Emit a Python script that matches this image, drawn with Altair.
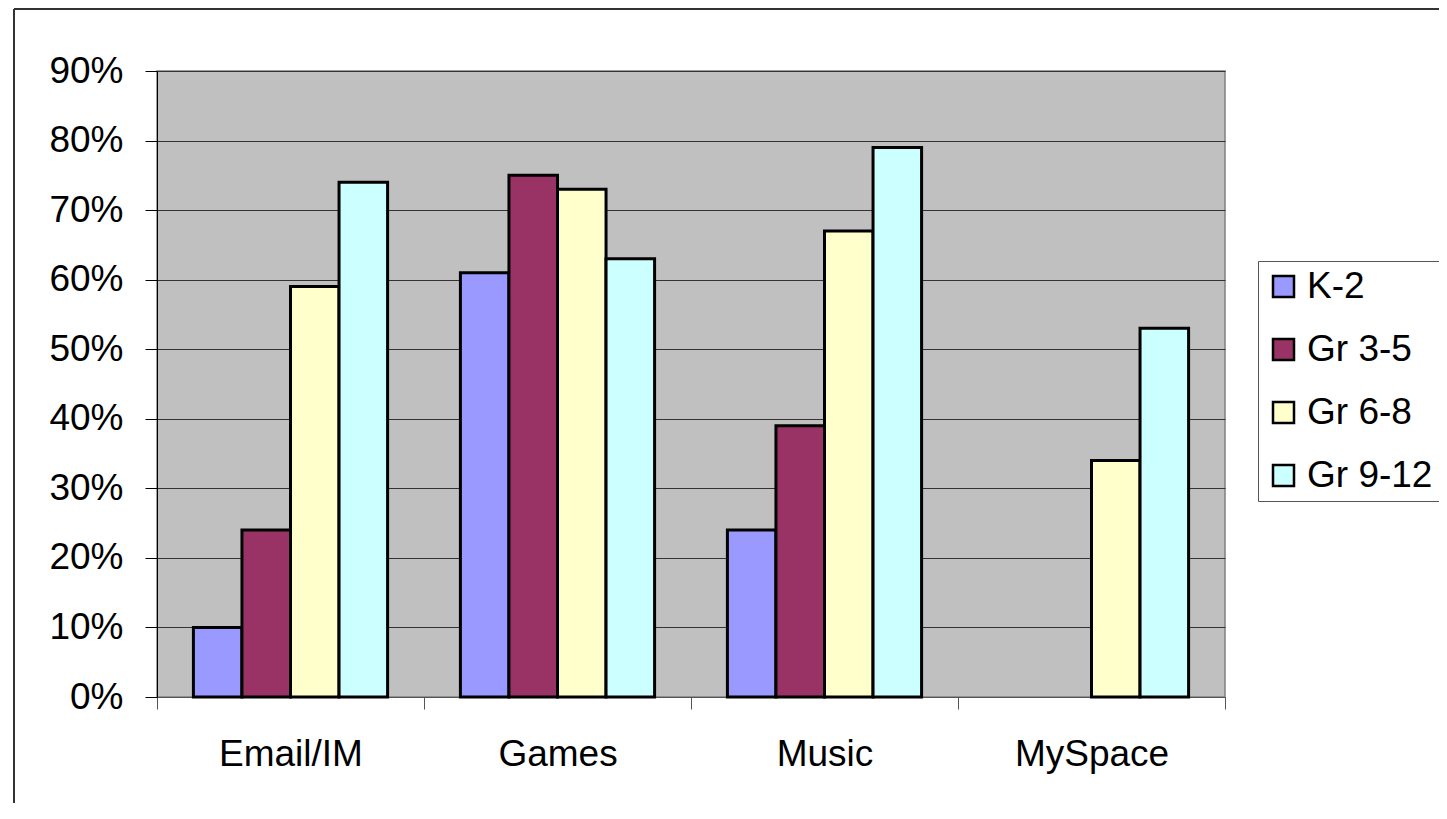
import altair as alt
import pandas as pd

categories = ["Email/IM", "Games", "Music", "MySpace"]
series = ["K-2", "Gr 3-5", "Gr 6-8", "Gr 9-12"]
k2 = [0.10, 0.61, 0.24, None]
gr35 = [0.24, 0.75, 0.39, None]
gr68 = [0.59, 0.73, 0.67, 0.34]
gr912 = [0.74, 0.63, 0.79, 0.53]
colors = ["#9999FF", "#993366", "#FFFFCC", "#CCFFFF"]
y_ticks = [0.0, 0.1, 0.2, 0.3, 0.4, 0.5, 0.6, 0.7, 0.8, 0.9]

rows = []
for s, vals in zip(series, [k2, gr35, gr68, gr912]):
    for c, v in zip(categories, vals):
        if v is not None:
            rows.append({"category": c, "series": s, "value": v})
df = pd.DataFrame(rows)

FONT = "Arial, Liberation Sans"
W, H = 1068, 626
PAD = {"left": 149, "top": 63, "right": 214, "bottom": 106}

bars = alt.Chart(df).mark_bar(stroke="black", strokeWidth=3).encode(
    x=alt.X("category:N", sort=categories,
            scale=alt.Scale(paddingInner=0, paddingOuter=0),
            axis=alt.Axis(title=None, labelAngle=0, tickBand="extent", tickSize=12,
                          labelPadding=27, domainColor="#555", tickColor="#555",
                          grid=False, labelFontSize=37, labelFont=FONT,
                          labelColor="black")),
    xOffset=alt.XOffset("series:N", sort=series,
                        scale=alt.Scale(paddingInner=0, paddingOuter=0.75)),
    y=alt.Y("value:Q",
            scale=alt.Scale(domain=[0, 0.9], nice=False),
            axis=alt.Axis(title=None, values=y_ticks, format=".0%", tickSize=12,
                          labelPadding=22, domainColor="black", tickColor="black",
                          gridColor="#333", gridWidth=1, labelFontSize=37,
                          labelFont=FONT, labelColor="black")),
    color=alt.Color("series:N", sort=series,
                    scale=alt.Scale(domain=series, range=colors),
                    legend=alt.Legend(title=None, orient="none", legendX=1101, legendY=190,
                                      symbolType="square", symbolSize=441,
                                      symbolStrokeColor="black", symbolStrokeWidth=2.5,
                                      symbolOpacity=1,
                                      labelFontSize=37, labelFont=FONT, labelColor="black",
                                      padding=7, rowPadding=25, labelOffset=5,
                                      strokeColor="#555", fillColor="white")),
)

frame_df = pd.DataFrame({"k": [0]})
frame_top = alt.Chart(frame_df).mark_rule(color="#333", strokeWidth=2, clip=False).encode(
    x=alt.value(-143), x2=alt.value(W + PAD["right"]), y=alt.value(-62)
)
frame_left = alt.Chart(frame_df).mark_rule(color="#333", strokeWidth=2, clip=False).encode(
    x=alt.value(-143), y=alt.value(-62), y2=alt.value(H + PAD["bottom"])
)

chart = alt.layer(bars, frame_top, frame_left).properties(
    width=W, height=H,
    autosize=alt.AutoSizeParams(type="none"),
    padding=PAD,
    background="white",
).configure_view(stroke="#808080", fill="#C0C0C0", strokeWidth=1.5)

chart.save("out.html", embed_options={"renderer": "svg", "actions": False})
